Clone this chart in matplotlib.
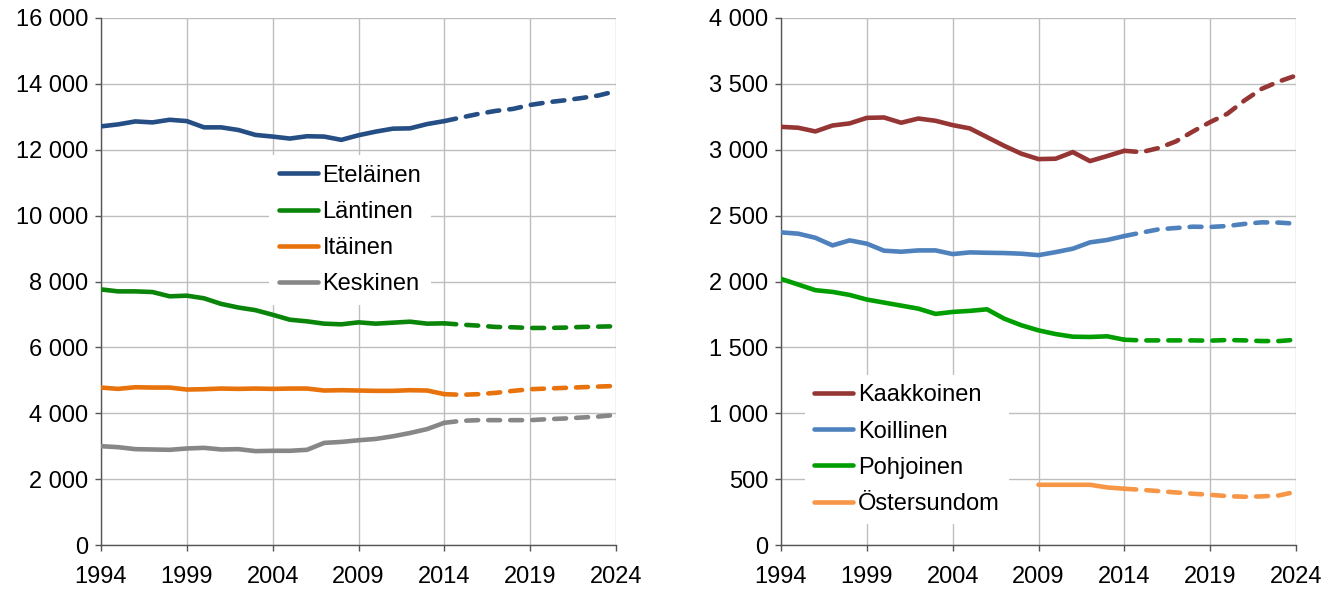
import matplotlib
matplotlib.use("Agg")
import matplotlib.pyplot as plt
from matplotlib.ticker import FuncFormatter, MultipleLocator

plt.rcParams['font.family'] = ['Liberation Sans', 'DejaVu Sans']

years = list(range(1994, 2025))
xtick_years = [1994, 1999, 2004, 2009, 2014, 2019, 2024]

# Left panel
etelainen = [12710, 12770, 12860, 12830, 12910, 12870, 12680, 12680, 12600, 12450,
             12400, 12340, 12410, 12400, 12300, 12440, 12550, 12640, 12650, 12780,
             12870, 12980, 13090, 13180, 13240, 13360, 13440, 13500, 13570, 13650, 13780]
lantinen = [7760, 7700, 7700, 7680, 7550, 7570, 7490, 7320, 7210, 7130,
            6990, 6840, 6790, 6720, 6700, 6760, 6720, 6750, 6780, 6720,
            6730, 6690, 6660, 6620, 6610, 6590, 6590, 6600, 6620, 6630, 6640]
itainen = [4780, 4740, 4790, 4780, 4780, 4720, 4730, 4750, 4740, 4750,
           4740, 4750, 4750, 4690, 4700, 4690, 4680, 4680, 4700, 4690,
           4580, 4560, 4580, 4620, 4680, 4730, 4750, 4770, 4790, 4810, 4830]
keskinen = [3000, 2970, 2910, 2900, 2890, 2930, 2950, 2900, 2910, 2850,
            2860, 2860, 2890, 3100, 3130, 3180, 3220, 3300, 3400, 3520,
            3710, 3770, 3790, 3790, 3790, 3790, 3820, 3840, 3870, 3900, 3950]

# Right panel
kaakkoinen = [3174, 3167, 3139, 3184, 3200, 3242, 3245, 3205, 3237, 3220,
              3187, 3162, 3096, 3030, 2970, 2929, 2932, 2982, 2914, 2952,
              2992, 2982, 3013, 3063, 3139, 3210, 3273, 3374, 3462, 3518, 3563]
koillinen = [2373, 2363, 2332, 2274, 2312, 2287, 2234, 2226, 2236, 2236,
             2208, 2221, 2218, 2216, 2211, 2200, 2223, 2249, 2297, 2315,
             2345, 2371, 2396, 2406, 2416, 2414, 2421, 2437, 2449, 2447, 2439]
pohjoinen = [2020, 1977, 1934, 1921, 1898, 1863, 1840, 1817, 1794, 1754,
             1769, 1777, 1789, 1718, 1668, 1629, 1601, 1581, 1579, 1584,
             1558, 1553, 1553, 1553, 1553, 1551, 1556, 1553, 1548, 1548, 1558]
ostersundom_years = list(range(2009, 2025))
ostersundom = [457, 457, 457, 457, 437, 427, 419, 409, 399, 389,
               381, 371, 366, 369, 376, 404]

split_year = 2014

left_series = [("Eteläinen", etelainen, "#254E84"),
               ("Läntinen", lantinen, "#0A850A"),
               ("Itäinen", itainen, "#E8720C"),
               ("Keskinen", keskinen, "#878787")]
right_series = [("Kaakkoinen", years, kaakkoinen, "#963634"),
                ("Koillinen", years, koillinen, "#4F81BD"),
                ("Pohjoinen", years, pohjoinen, "#009E00"),
                ("Östersundom", ostersundom_years, ostersundom, "#F79646")]

fig = plt.figure(figsize=(13.38, 5.90), dpi=100)
ax1 = fig.add_axes([101/1338, 45/590, 515/1338, 527/590])
ax2 = fig.add_axes([781/1338, 45/590, 515/1338, 527/590])

FS = 17
LW = 3.3


def fmt(v, pos):
    return f"{int(round(v)):,}".replace(",", "\u00a0")


def draw(ax, xs, ys, color, label):
    solid_x = [x for x in xs if x <= split_year]
    solid_y = [y for x, y in zip(xs, ys) if x <= split_year]
    dash_x = [x for x in xs if x >= split_year]
    dash_y = [y for x, y in zip(xs, ys) if x >= split_year]
    ax.plot(solid_x, solid_y, color=color, lw=LW, solid_capstyle='round',
            solid_joinstyle='round', label=label, zorder=3)
    ax.plot(dash_x, dash_y, color=color, lw=LW, ls=(0, (2.6, 2.2)),
            dash_capstyle='round', zorder=3)


def style(ax, ymax, ystep):
    ax.set_xlim(1994, 2024)
    ax.set_ylim(0, ymax)
    ax.set_xticks(xtick_years)
    ax.yaxis.set_major_locator(MultipleLocator(ystep))
    ax.yaxis.set_major_formatter(FuncFormatter(fmt))
    ax.grid(True, color="#BEBEBE", lw=1.0, zorder=0)
    ax.set_axisbelow(True)
    for s in ("top", "right"):
        ax.spines[s].set_visible(False)
    for s in ("left", "bottom"):
        ax.spines[s].set_color("#555555")
        ax.spines[s].set_linewidth(1.0)
    ax.tick_params(axis='both', labelsize=FS, length=4, width=1.0,
                   color="#555555", direction='out')
    ax.tick_params(axis='y', pad=5)
    ax.tick_params(axis='x', pad=11)
    ax.set_facecolor('white')


for name, ys, c in left_series:
    draw(ax1, years, ys, c, name)
for name, xs, ys, c in right_series:
    draw(ax2, xs, ys, c, name)

style(ax1, 16000, 2000)
style(ax2, 4000, 500)

leg_kw = dict(fontsize=FS, frameon=True, facecolor='white', edgecolor='none',
              framealpha=1.0, handlelength=1.65, handletextpad=0.2,
              labelspacing=0.6, borderaxespad=0.0, borderpad=0.4,
              fancybox=False)
l1 = ax1.legend(loc='center left', bbox_to_anchor=(0.327, 0.598), **leg_kw)
l2 = ax2.legend(loc='center left', bbox_to_anchor=(0.046, 0.181), **leg_kw)
for l in (l1, l2):
    for h in l.get_lines():
        h.set_linewidth(LW)
    l.set_zorder(5)

fig.savefig("out.png", dpi=100)
